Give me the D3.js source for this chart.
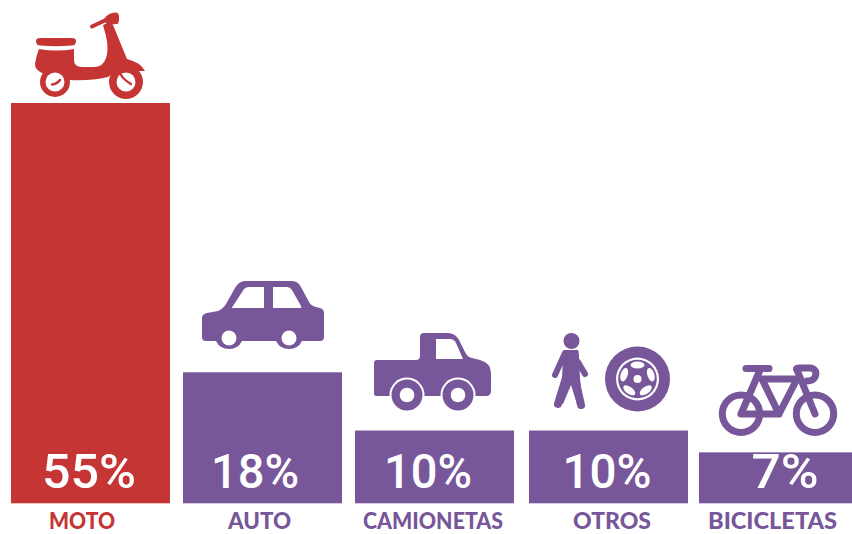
<!DOCTYPE html>
<html>
<head>
<meta charset="utf-8">
<script src="https://cdn.jsdelivr.net/npm/d3@7"></script>
<style>
  html, body { margin: 0; padding: 0; background: #fff; }
  svg { display: block; }
  text.pct { font-family: Roboto, sans-serif; }
  text.lab { font-family: Lato, sans-serif; }
</style>
</head>
<body>
<div id="chart"></div>
<script>
// share of each vehicle type
var categories = ["MOTO", "AUTO", "CAMIONETAS", "OTROS", "BICICLETAS"];
var values = [55, 18, 10, 10, 7];

var RED = "#c43533", PURPLE = "#775799";

var svg = d3.select("#chart").append("svg").attr("width", 852).attr("height", 534);

// bars are not evenly spaced in the original, so ordinal scales hold the edges
var xLeft = d3.scaleOrdinal().domain(categories).range([11, 183, 355, 529, 699]);
var barW = d3.scaleOrdinal().domain(categories).range([159, 159, 159, 159, 153]);
var pctX = d3.scaleOrdinal().domain(categories).range([89, 255, 428, 607, 785]);
var pctW = d3.scaleOrdinal().domain(categories).range([94, 88, 88, 89, 67]);
var labX = d3.scaleOrdinal().domain(categories).range([82, 259.5, 433, 612, 772.5]);
var labW = d3.scaleOrdinal().domain(categories).range([66, 63, 140, 78, 129]);
var color = d3.scaleOrdinal().domain(categories).range([RED, PURPLE, PURPLE, PURPLE, PURPLE]);
var y = d3.scaleLinear().domain([0, 55]).range([503.3, 103]);

var rows = d3.zip(categories, values);

svg.selectAll("rect.bar").data(rows).enter().append("rect")
  .attr("class", "bar")
  .attr("x", function(d) { return xLeft(d[0]); })
  .attr("y", function(d) { return y(d[1]); })
  .attr("width", function(d) { return barW(d[0]); })
  .attr("height", function(d) { return y(0) - y(d[1]); })
  .attr("fill", function(d) { return color(d[0]); });

svg.selectAll("text.pct").data(rows).enter().append("text")
  .attr("class", "pct")
  .attr("x", function(d) { return pctX(d[0]); })
  .attr("y", 488)
  .attr("text-anchor", "middle")
  .attr("font-size", 48)
  .attr("font-weight", 500)
  .attr("fill", "#fff")
  .attr("textLength", function(d) { return pctW(d[0]); })
  .attr("lengthAdjust", "spacingAndGlyphs")
  .text(function(d) { return d[1] + "%"; });

svg.selectAll("text.lab").data(rows).enter().append("text")
  .attr("class", "lab")
  .attr("x", function(d) { return labX(d[0]); })
  .attr("y", 529.2)
  .attr("text-anchor", "middle")
  .attr("font-size", 22)
  .attr("font-weight", 900)
  .attr("fill", function(d) { return color(d[0]); })
  .attr("textLength", function(d) { return labW(d[0]); })
  .attr("lengthAdjust", "spacingAndGlyphs")
  .text(function(d) { return d[0]; });

//----- icons

function blob(g, d, fill) { return g.append("path").attr("d", d).attr("fill", fill); }
function dot(g, cx, cy, r, fill) {
  return g.append("circle").attr("cx", cx).attr("cy", cy).attr("r", r).attr("fill", fill);
}
function stick(g, d, w, col) {
  return g.append("path").attr("d", d).attr("fill", "none").attr("stroke", col)
    .attr("stroke-width", w).attr("stroke-linecap", "round").attr("stroke-linejoin", "round");
}

// scooter
var moto = svg.append("g");
blob(moto, "M40,38 H72 Q76,38 76,41 Q76,45 72,45.5 Q56,47 40,45.5 Q36,45 36,41 Q36,38 40,38Z", RED);
dot(moto, 55, 82, 15, RED);
dot(moto, 126, 82, 17, RED);
blob(moto, "M39,49 Q56,52 74,49 L74,60 Q74,67 82,67 L94,67 Q103,67 106,58 Q109,50 106,36 L103,25 " +
  "L110,22 L113,25 L127,59 Q140,62 145,71 L116,71 L108,77 Q90,81 70,80 L42,73 Q35,70 35,64 Q36,56 39,49Z", RED);
stick(moto, "M92,26.5 L106,20", 4, RED);
blob(moto, "M104,19 Q108,12.5 116,12.5 Q119.5,13 119,18 Q119,24 117,24 L107,25Z", RED);
dot(moto, 55, 82, 9.5, "#fff");
dot(moto, 126, 82, 9.5, "#fff");
stick(moto, "M52,84.5 Q57,84 60,80", 2.4, RED);
stick(moto, "M121,75 Q124,80 131,84", 2.4, RED);

// car
var car = svg.append("g");
blob(car, "M202,318 Q202,314 207,313 L218,311 Q223,309 226,304 L235,288 Q239,281 245,281 L292,281 " +
  "Q298,281 301,287 L309,302 Q311,306 316,307 L320,308 Q324,309 324,313 L324,337 Q324,341 320,341 " +
  "L302,341 A14.5,14.5 0 0 1 276,341 L242,341 A14.5,14.5 0 0 1 216,341 L206,341 Q202,341 202,337Z", PURPLE);
blob(car, "M233,306 L244,289 Q246,287 249,287 L264,287 L264,308 L233,308Q231,308 233,306Z", "#fff");
blob(car, "M273,287 L287,287 Q290,287 292,290 L301,306 Q302,308 300,308 L273,308Z", "#fff");
dot(car, 229, 338, 7.5, "#fff");
dot(car, 289, 338, 7.5, "#fff");

// pickup
var truck = svg.append("g");
blob(truck, "M374,363 Q374,360 377,360 L416,360 Q420,360 420,356 L420,337 Q420,333 424,333 L448,333 " +
  "Q455,333 459,340 L465,352 Q467,357 472,358 L480,360 Q491,363 491,373 L491,391 Q491,396 486,396 " +
  "L376,396 Q374,396 374,393Z", PURPLE);
blob(truck, "M436,339 L450,339 Q454,339 456,343 L463,359 L436,359Z", "#fff");
[407, 458].forEach(function(cx) {
  dot(truck, cx, 395, 17.5, "#fff");
  dot(truck, cx, 395, 15.5, PURPLE);
  dot(truck, cx, 395, 7.3, "#fff");
});
truck.append("rect").attr("x", 370).attr("y", 396).attr("width", 20).attr("height", 16).attr("fill", "#fff");
truck.append("rect").attr("x", 474).attr("y", 396).attr("width", 20).attr("height", 16).attr("fill", "#fff");

// walking person
var walker = svg.append("g");
dot(walker, 571.5, 341, 8, PURPLE);
blob(walker, "M564,350 L578,350 Q579,352 579,358 L580,378 L582,400 L577,404 L571,385 L563,404 L558,402 L562,378 L563,358Z", PURPLE);
stick(walker, "M565,353 L555,375", 6, PURPLE);
stick(walker, "M578,362 L585,374", 6, PURPLE);
stick(walker, "M566,378 L558,404", 8, PURPLE);
stick(walker, "M575,378 L581,405", 8, PURPLE);

// tyre and rim
var tyre = svg.append("g");
dot(tyre, 637.5, 379, 32.5, PURPLE);
dot(tyre, 637.5, 379, 21.5, "#fff");
dot(tyre, 637.5, 379, 19.3, PURPLE);
dot(tyre, 637.5, 379, 4, "#fff");
[-90, -18, 54, 126, 198].forEach(function(a) {
  tyre.append("ellipse").attr("cx", 0).attr("cy", 0).attr("rx", 3.5).attr("ry", 7)
    .attr("fill", "#fff")
    .attr("transform", "translate(637.5,379) rotate(" + a + ") translate(14,0)");
});

// bicycle
var bike = svg.append("g");
[741, 815].forEach(function(cx) {
  bike.append("circle").attr("cx", cx).attr("cy", 413.7).attr("r", 18.7)
    .attr("fill", "none").attr("stroke", PURPLE).attr("stroke-width", 7);
});
stick(bike, "M746,368.5 L769,368.5", 7, PURPLE);
stick(bike, "M760,370 L741,414 L779,414 L762,379 L797,379 L779,414", 7, PURPLE);
stick(bike, "M815,414 L797,370 Q795,368 800,368 L811,368 Q818,370 815,377 Q813,381 807,381", 7, PURPLE);
</script>
</body>
</html>
